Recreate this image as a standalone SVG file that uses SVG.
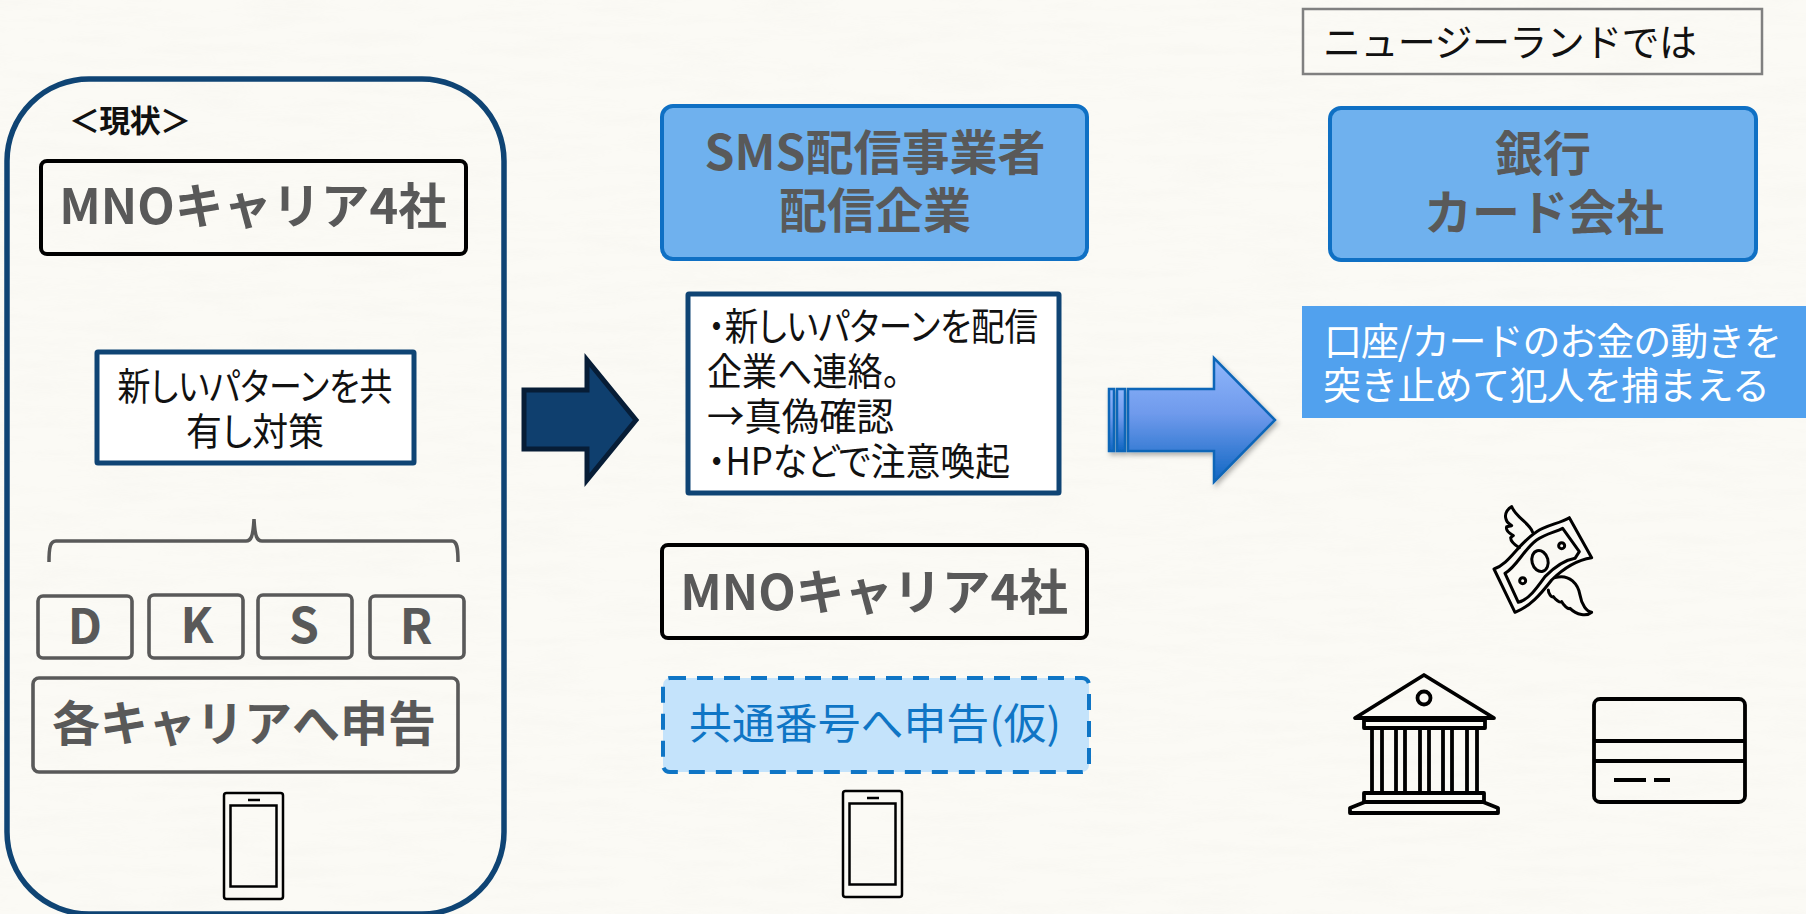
<svg xmlns="http://www.w3.org/2000/svg" width="1806" height="914" viewBox="0 0 1806 914">
<style>
text{font-family:"Noto Sans CJK JP","Noto Sans",sans-serif}
.h{font-weight:700;font-size:48px;fill:#595959;text-anchor:middle;dominant-baseline:central}
.m{font-size:48.7px}
.b{font-size:38px;fill:#111;dominant-baseline:central;font-feature-settings:"palt"}
.w{font-size:38px;fill:#fff;dominant-baseline:central}
.blue{fill:#6fb1ee;stroke:#0f70c4;stroke-width:4}
.white{fill:#fff;stroke:#0f4474;stroke-width:5}
.blk{fill:none;stroke:#000;stroke-width:4}
.gray{fill:none;stroke:#595959;stroke-width:3.6}
.ic{fill:none;stroke:#000;stroke-width:3.8;stroke-linejoin:round}
.ph{fill:none;stroke:#000;stroke-width:2.5}
</style>
<defs>
<linearGradient id="ag" x1="0" y1="0" x2="0" y2="1"><stop offset="0" stop-color="#8fb6fb"/><stop offset=".45" stop-color="#6f9aec"/><stop offset="1" stop-color="#0f66c2"/></linearGradient>
<filter id="sh" x="-10%" y="-10%" width="125%" height="125%"><feDropShadow dx="2" dy="3" stdDeviation="2.5" flood-color="#000" flood-opacity=".3"/></filter>
<filter id="paper" x="0" y="0" width="100%" height="100%"><feTurbulence type="fractalNoise" baseFrequency=".012 .09" numOctaves="3" seed="4"/><feColorMatrix values="0 0 0 0 .45  0 0 0 0 .44  0 0 0 0 .38  .5 0 0 0 -.2"/></filter>
<g id="phone"><rect x="0" y="0" width="59" height="106" rx="2.5" class="ph"/><rect x="6.5" y="12.5" width="46" height="81" class="ph"/><path d="M24 7H36" class="ph"/></g>
</defs>
<rect width="1806" height="914" fill="#fbfaf5"/>
<rect width="1806" height="914" filter="url(#paper)" opacity=".12"/>

<g id="current-frame"><rect x="7" y="79" width="497" height="835" rx="82" fill="none" stroke="#0f4474" stroke-width="5.5"/><text x="130" y="118" font-size="31" font-weight="700" text-anchor="middle" dominant-baseline="central" fill="#111" textLength="122" lengthAdjust="spacing">＜現状＞</text></g>
<g id="mno-left"><rect x="41" y="161" width="425" height="93" rx="6" class="blk"/><text x="253" y="203" class="h m">MNOキャリア4社</text></g>
<g id="share-box"><rect x="97" y="352" width="317" height="111" rx="1" class="white"/><text x="255" y="383" class="b" text-anchor="middle" textLength="275" lengthAdjust="spacingAndGlyphs">新しいパターンを共</text><text x="255" y="428" class="b" text-anchor="middle" textLength="138" lengthAdjust="spacingAndGlyphs">有し対策</text></g>
<g id="brace"><path d="M49 562C49 548 50 541 56 541H246C251 541 253 537 254 519C255 537 257 541 262 541H452C457 541 458 548 458 562" fill="none" stroke="#595959" stroke-width="3.5"/></g>
<g id="carrier-d"><rect x="38" y="596" width="94" height="62" rx="5" class="gray"/><text x="85" y="623" class="h">D</text></g>
<g id="carrier-k"><rect x="149" y="595" width="94" height="63" rx="5" class="gray"/><text x="197" y="622" class="h">K</text></g>
<g id="carrier-s"><rect x="258" y="595" width="94" height="63" rx="5" class="gray"/><text x="304" y="622" class="h">S</text></g>
<g id="carrier-r"><rect x="370" y="596" width="94" height="62" rx="5" class="gray"/><text x="416" y="623" class="h">R</text></g>
<g id="report-carrier"><rect x="33" y="678" width="425" height="94" rx="6" class="gray"/><text x="244" y="720" class="h">各キャリアへ申告</text></g>
<use id="phone-left" href="#phone" x="224" y="793"/>

<g id="sms-box"><rect x="662" y="106" width="425" height="153" rx="11" class="blue"/><text x="875" y="149" class="h">SMS配信事業者</text><text x="875" y="207" class="h">配信企業</text></g>
<g id="notice-box"><rect x="688" y="294" width="371" height="199" rx="1" class="white"/><text x="708" y="323" class="b" textLength="330" lengthAdjust="spacingAndGlyphs">・新しいパターンを配信</text><text x="707" y="368" class="b" textLength="193" lengthAdjust="spacingAndGlyphs">企業へ連絡。</text><text x="707" y="413" class="b" textLength="187" lengthAdjust="spacingAndGlyphs">→真偽確認</text><text x="708" y="458" class="b" textLength="302" lengthAdjust="spacingAndGlyphs">・HPなどで注意喚起</text></g>
<g id="mno-mid"><rect x="662" y="545" width="425" height="93" rx="6" class="blk"/><text x="874" y="589" class="h m">MNOキャリア4社</text></g>
<g id="common-number"><rect x="663" y="678" width="426" height="94" rx="7" fill="#c4e3fb" stroke="#0f75c5" stroke-width="4" stroke-dasharray="16 11"/><text x="875" y="720" font-size="42" fill="#0f75c5" text-anchor="middle" dominant-baseline="central" textLength="372" lengthAdjust="spacingAndGlyphs">共通番号へ申告(仮)</text></g>
<use id="phone-mid" href="#phone" x="843" y="791"/>

<g id="nz-label"><rect x="1303" y="9" width="459" height="65" fill="none" stroke="#808080" stroke-width="2.5"/><text x="1323" y="39" font-size="38" fill="#111" dominant-baseline="central" textLength="374" lengthAdjust="spacing">ニュージーランドでは</text></g>
<g id="bank-box"><rect x="1330" y="108" width="426" height="152" rx="11" class="blue"/><text x="1543" y="150" class="h">銀行</text><text x="1544" y="209" class="h">カード会社</text></g>
<g id="action-box"><rect x="1302" y="306" width="504" height="112" fill="#51a1ee"/><text x="1324" y="338" class="w" textLength="458" lengthAdjust="spacing">口座/カードのお金の動きを</text><text x="1323" y="382" class="w" textLength="447" lengthAdjust="spacing">突き止めて犯人を捕まえる</text></g>

<g id="money-icon" transform="translate(1480 495) scale(.3333)" fill="none" stroke="#000" stroke-width="9" stroke-linejoin="round" stroke-linecap="round">
<path d="M42 222C90 205 110 150 170 110C200 90 240 85 268 68L335 188C290 195 250 220 215 255C180 300 150 335 105 352Z"/>
<path d="M75 235C110 215 130 165 170 135C200 115 225 112 248 100L298 170L285 190C255 195 225 215 195 245C170 280 145 315 115 322Z"/>
<ellipse cx="180" cy="198" rx="24" ry="32" transform="rotate(-15 180 198)"/><circle cx="245" cy="152" r="9"/><circle cx="128" cy="257" r="9"/>
<path d="M158 112C150 85 110 70 95 35C85 40 72 55 78 72C80 85 92 88 95 92L80 95C75 110 95 118 100 122L92 128C92 140 105 150 118 158"/>
<path d="M225 248C270 235 295 270 300 300C305 330 320 350 335 352C320 365 290 360 270 340C265 345 250 330 245 320C240 325 225 312 220 305C215 310 205 295 205 285"/>
</g>
<g id="bank-icon" class="ic"><path d="M1424 675L1355 718H1494Z"/><circle cx="1424" cy="698" r="6.5"/><rect x="1364" y="720" width="121" height="8"/><path d="M1372 728V793M1382 728V793M1396 728V793M1405 728V793M1420 728V793M1429 728V793M1443 728V793M1452 728V793M1467 728V793M1477 728V793"/><rect x="1364" y="793" width="120" height="9"/><path d="M1365 802L1350 808V813H1498V808L1483 802"/></g>
<g id="card-icon" class="ic"><rect x="1594" y="699" width="151" height="103" rx="6"/><path d="M1594 741H1745M1594 761H1745M1614 780H1646M1654 780H1670"/></g>

<g id="connectors">
<path d="M524 390H587V360L636 420L587 480V449H524Z" fill="#0f3f6e" stroke="#071d36" stroke-width="5"/>
<g filter="url(#sh)" fill="url(#ag)" stroke="#0f66b8" stroke-width="2.5"><rect x="1109" y="389" width="5" height="62"/><rect x="1117" y="389" width="8" height="62"/><path d="M1128 389H1214V358L1275 420L1214 482V451H1128Z"/></g>
</g>
</svg>
